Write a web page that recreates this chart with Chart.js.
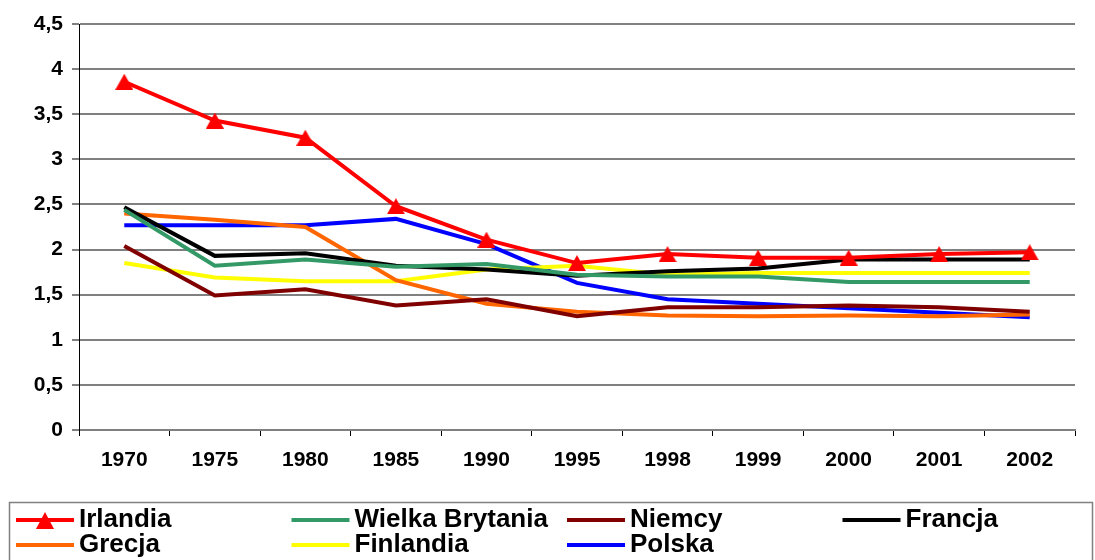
<!DOCTYPE html>
<html>
<head>
<meta charset="utf-8">
<script src="https://cdn.jsdelivr.net/npm/chart.js@4.4.1/dist/chart.umd.min.js"></script>
<style>
  body { margin: 0; background: #fff; }
  #wrap { width: 1095px; height: 560px; position: relative; }
</style>
</head>
<body>
<div id="wrap"><canvas id="line-chart"></canvas></div>
<script>
// data
var years = ["1970","1975","1980","1985","1990","1995","1998","1999","2000","2001","2002"];
var irlandia = [3.86,3.43,3.24,2.48,2.11,1.85,1.95,1.91,1.91,1.95,1.97];
var wielkaBrytania = [2.44,1.82,1.89,1.81,1.84,1.72,1.70,1.70,1.64,1.64,1.64];
var niemcy = [2.04,1.49,1.56,1.38,1.45,1.26,1.36,1.36,1.38,1.36,1.31];
var francja = [2.47,1.93,1.96,1.82,1.78,1.71,1.76,1.79,1.89,1.89,1.89];
var grecja = [2.40,2.33,2.25,1.66,1.40,1.31,1.27,1.26,1.27,1.26,1.28];
var finlandia = [1.85,1.69,1.65,1.65,1.78,1.82,1.72,1.74,1.74,1.74,1.74];
var polska = [2.27,2.27,2.27,2.34,2.06,1.63,1.45,1.40,1.35,1.30,1.25];

var FONT = "'Liberation Sans', Arial, sans-serif";

// excel-like triangle marker, centred on its bounding box
function triangleMarker(color, w, h) {
    var c = document.createElement('canvas');
    c.width = w;
    c.height = h;
    var g = c.getContext('2d');
    g.fillStyle = color;
    g.beginPath();
    g.moveTo(w / 2, 0);
    g.lineTo(w, h);
    g.lineTo(0, h);
    g.closePath();
    g.fill();
    return c;
}

function line(label, data, color) {
    return {
        label: label,
        data: data,
        borderColor: color,
        backgroundColor: color,
        borderWidth: 4,
        pointRadius: 0,
        pointHoverRadius: 0,
        tension: 0,
        fill: false
    };
}

var irl = line("Irlandia", irlandia, "#FF0000");
irl.pointStyle = triangleMarker("#FF0000", 18, 16);
irl.pointRadius = 9;
irl.hasTriangle = true;

// legend drawn in columns like the original
var boxLegend = {
    id: 'boxLegend',
    afterDraw: function(chart) {
        var ctx = chart.ctx;
        ctx.save();
        ctx.strokeStyle = '#808080';
        ctx.lineWidth = 1.5;
        ctx.strokeRect(9.5, 502.5, 1083, 80);
        ctx.font = "bold 26px " + FONT;
        ctx.textBaseline = 'middle';
        ctx.fillStyle = '#000';
        chart.data.datasets.forEach(function(ds, i) {
            var x = 16 + (i % 4) * 275.5;
            var y = i < 4 ? 520 : 545;
            ctx.strokeStyle = ds.borderColor;
            ctx.lineWidth = 4;
            ctx.beginPath();
            ctx.moveTo(x, y);
            ctx.lineTo(x + 58, y);
            ctx.stroke();
            if (ds.hasTriangle) {
                ctx.fillStyle = ds.borderColor;
                ctx.beginPath();
                ctx.moveTo(x + 29, y - 8);
                ctx.lineTo(x + 38, y + 9);
                ctx.lineTo(x + 20, y + 9);
                ctx.closePath();
                ctx.fill();
                ctx.fillStyle = '#000';
            }
            ctx.fillText(ds.label, x + 63, y);
        });
        ctx.restore();
    }
};

new Chart(document.getElementById("line-chart"), {
    type: 'line',
    data: {
        labels: years,
        datasets: [
            irl,
            line("Wielka Brytania", wielkaBrytania, "#339966"),
            line("Niemcy", niemcy, "#800000"),
            line("Francja", francja, "#000000"),
            line("Grecja", grecja, "#FF6600"),
            line("Finlandia", finlandia, "#FFFF00"),
            line("Polska", polska, "#0000FF")
        ]
    },
    options: {
        responsive: true,
        maintainAspectRatio: false,
        animation: false,
        layout: { padding: { left: 0, top: 24, right: 20, bottom: 70 } },
        plugins: {
            legend: { display: false },
            tooltip: { enabled: false }
        },
        scales: {
            x: {
                offset: true,
                grid: { offset: true, drawOnChartArea: false, tickLength: 6, color: '#000', lineWidth: 1 },
                border: { display: true, color: '#808080', width: 2 },
                ticks: { color: '#000', padding: 12, font: { family: FONT, size: 21, weight: 'bold' }, maxRotation: 0 },
                afterFit: function(scale) { scale.height = 60; }
            },
            y: {
                min: 0,
                max: 4.5,
                ticks: {
                    stepSize: 0.5,
                    color: '#000',
                    padding: 9,
                    font: { family: FONT, size: 21, weight: 'bold' },
                    callback: function(v) { return String(v).replace('.', ','); }
                },
                grid: { color: '#808080', lineWidth: 2, tickLength: 7 },
                border: { display: true, color: '#000', width: 1 },
                afterFit: function(scale) { scale.width = 79; }
            }
        }
    },
    plugins: [boxLegend]
});
</script>
</body>
</html>
